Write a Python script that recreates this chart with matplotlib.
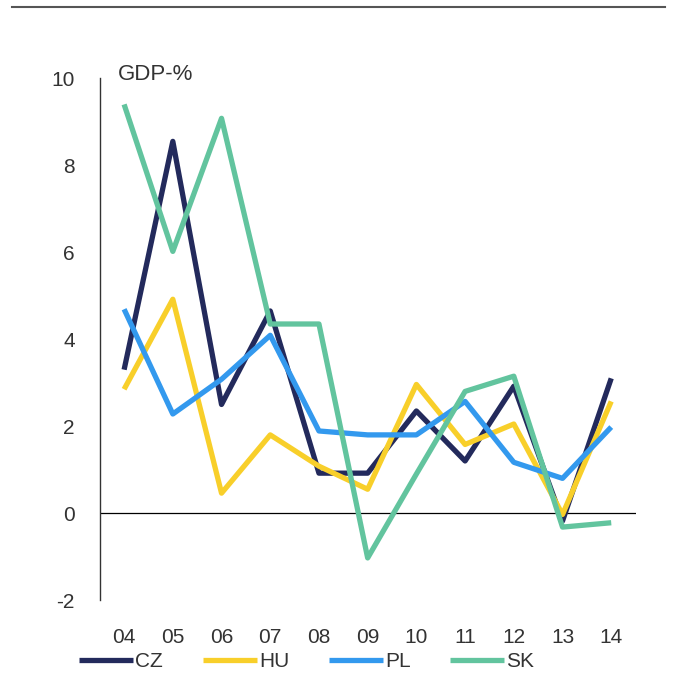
import matplotlib.pyplot as plt
from matplotlib.lines import Line2D

plt.rcParams['font.family'] = ['Liberation Sans', 'DejaVu Sans']
plt.rcParams['axes.unicode_minus'] = False

# Data (GDP-%)
years = ["04", "05", "06", "07", "08", "09", "10", "11", "12", "13", "14"]
cz = [3.3, 8.55, 2.5, 4.65, 0.92, 0.92, 2.35, 1.2, 2.92, -0.18, 3.1]
hu = [2.85, 4.92, 0.46, 1.8, 1.08, 0.55, 2.96, 1.58, 2.05, -0.03, 2.57]
pl = [4.69, 2.28, 3.08, 4.09, 1.89, 1.8, 1.8, 2.57, 1.17, 0.8, 1.98]
sk = [9.4, 6.02, 9.08, 4.35, 4.35, -1.03, 0.9, 2.8, 3.15, -0.32, -0.22]

series = [("CZ", cz, "#232a5c"), ("HU", hu, "#f8cf2a"),
          ("PL", pl, "#3399ee"), ("SK", sk, "#62c49e")]

fig = plt.figure(figsize=(6.74, 6.93), dpi=100)
ax = fig.add_axes([0.148, 0.134, 0.795, 0.753])

x = list(range(len(years)))
for name, vals, col in series:
    ax.plot(x, vals, color=col, lw=3.8, label=name, solid_capstyle='butt')

ax.axhline(0, color='black', lw=0.9, zorder=0)
ax.set_xlim(-0.5, 10.5)
ax.set_ylim(-2, 10)
ax.set_yticks([-2, 0, 2, 4, 6, 8, 10])
ax.set_xticks(x)
ax.set_xticklabels(years)

for s in ['top', 'right', 'bottom']:
    ax.spines[s].set_visible(False)
ax.spines['left'].set_color('#333333')
ax.spines['left'].set_linewidth(1.0)
ax.tick_params(axis='both', length=0, labelsize=15, colors='#333333')
ax.tick_params(axis='y', pad=18)
ax.tick_params(axis='x', pad=20)

ax.text(0.034, 0.996, "GDP-%", transform=ax.transAxes, fontsize=16,
        color='#333333', va='baseline', ha='left')

fig.legend(loc='center', bbox_to_anchor=(0.455, 0.045), ncol=4, frameon=False,
           fontsize=15, handlelength=2.6, handletextpad=0.1, columnspacing=1.9,
           labelcolor='#333333')

# rule under the (cut off) heading
fig.add_artist(Line2D([0.018, 0.987], [0.99, 0.99], transform=fig.transFigure,
                      color='#555555', lw=1.5))

fig.savefig("out.png", dpi=100, facecolor='white')
